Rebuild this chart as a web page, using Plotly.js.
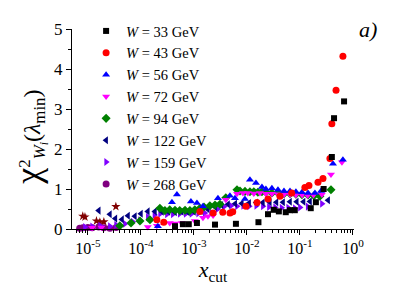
<!DOCTYPE html>
<html>
<head>
<meta charset="utf-8">
<script src="https://cdn.plot.ly/plotly-3.0.1.min.js"></script>
<style>html,body{margin:0;padding:0;background:#fff;}#chart{width:409px;height:287px;}</style>
</head>
<body>
<div id="chart"></div>
<script>
// W = 33 GeV
const x33 = [4.4e-4, 6.2e-4, 8.0e-4, 1.14e-3, 2.5e-3, 6.2e-3, 0.0165, 0.025, 0.032, 0.040, 0.054, 0.065, 0.080, 0.16, 0.20, 0.28, 0.40, 0.44, 0.68];
const y33 = [0.07, 0.12, 0.12, 0.15, 0.11, 0.13, 0.17, 0.37, 0.48, 0.44, 0.42, 0.47, 0.47, 0.52, 0.67, 1.0, 1.8, 2.77, 3.19];
// W = 43 GeV
const x43 = [2.0e-4, 2.7e-4, 1.3e-3, 2.3e-3, 3.5e-3, 4.8e-3, 5.4e-3, 9.6e-3, 0.0155, 0.025, 0.042, 0.07, 0.124, 0.148, 0.219, 0.272, 0.368, 0.40, 0.48, 0.647];
const y43 = [0.23, 0.17, 0.44, 0.40, 0.42, 0.40, 0.43, 0.57, 0.66, 0.75, 0.82, 0.90, 1.04, 1.09, 1.17, 1.26, 1.76, 2.63, 3.47, 4.32];
// W = 56 GeV
const x56 = [2.09e-4, 3.85e-4, 4.78e-4, 8.78e-4, 1.14e-3, 1.48e-3, 2.84e-3, 4.78e-3, 5.94e-3, 9.17e-3, 0.0114, 0.0148, 0.0192, 0.0228, 0.0296, 0.0385, 0.05, 0.065, 0.084, 0.109, 0.142, 0.192, 0.25, 0.42, 0.647];
const y56 = [0.07, 0.67, 0.86, 0.69, 0.65, 0.57, 0.77, 0.83, 0.77, 0.75, 1.23, 1.15, 1.05, 1.0, 1.02, 0.98, 0.95, 0.95, 0.93, 0.92, 0.90, 0.90, 0.95, 1.63, 1.73];
// W = 72 GeV
const x72 = [1.2e-5, 1.8e-5, 1.35e-4, 2.0e-4, 3.5e-4, 4.4e-4, 5.9e-4, 1.04e-3, 1.48e-3, 1.84e-3, 2.3e-3, 4.0e-3, 6.5e-3, 8.4e-3, 0.0104, 0.0135, 0.0176, 0.0228, 0.0296, 0.0385, 0.05, 0.065, 0.084, 0.11, 0.14, 0.18, 0.26, 0.385, 0.62];
const y72 = [0.03, 0.04, 0.05, 0.08, 0.15, 0.14, 0.15, 0.20, 0.28, 0.32, 0.34, 0.73, 0.88, 0.90, 0.90, 0.89, 0.90, 0.88, 0.88, 0.87, 0.86, 0.86, 0.85, 0.85, 0.84, 0.85, 0.86, 1.36, 1.67];
// W = 94 GeV
const x94 = [4.0e-5, 6.5e-5, 9.6e-5, 1.48e-4, 2.28e-4, 2.84e-4, 3.5e-4, 4.4e-4, 5.4e-4, 6.8e-4, 8.4e-4, 1.04e-3, 1.3e-3, 1.55e-3, 2.0e-3, 2.5e-3, 3.1e-3, 4.0e-3, 6.5e-3, 7.4e-3, 9.2e-3, 0.0114, 0.0135, 0.0161, 0.0192, 0.0228, 0.0296, 0.0385, 0.05, 0.065, 0.084, 0.109, 0.142, 0.184, 0.238, 0.385];
const y94 = [0.08, 0.15, 0.20, 0.23, 0.52, 0.46, 0.48, 0.47, 0.46, 0.47, 0.46, 0.48, 0.52, 0.55, 0.58, 0.60, 0.62, 0.78, 0.98, 0.95, 0.94, 0.93, 0.93, 0.92, 0.93, 0.92, 0.90, 0.90, 0.88, 0.88, 0.87, 0.86, 0.85, 0.83, 0.82, 0.98];
// W = 122 GeV
const x122 = [1.6e-5, 2.6e-5, 3.3e-5, 4.4e-5, 5.7e-5, 7.7e-5, 1.0e-4, 1.35e-4, 1.84e-4, 2.5e-4, 3.3e-4, 4.4e-4, 5.9e-4, 7.7e-4, 1.0e-3, 1.35e-3, 1.8e-3, 2.5e-3, 3.3e-3, 4.4e-3, 6.0e-3, 8.0e-3, 0.011, 0.015, 0.02, 0.027, 0.036, 0.048, 0.065, 0.087, 0.117, 0.155, 0.34];
const y122 = [0.46, 0.37, 0.26, 0.24, 0.33, 0.32, 0.38, 0.44, 0.44, 0.43, 0.43, 0.42, 0.43, 0.42, 0.43, 0.45, 0.50, 0.55, 0.60, 0.62, 0.63, 0.64, 0.65, 0.66, 0.66, 0.67, 0.67, 0.67, 0.68, 0.68, 0.68, 0.69, 0.72];
// W = 159 GeV
const x159 = [8.8e-6, 1.2e-5, 1.7e-5, 2.6e-5, 3.4e-5, 5.0e-5, 7.0e-5, 9.6e-5, 1.35e-4, 1.8e-4, 2.3e-4, 3.1e-4, 4.0e-4, 5.4e-4, 7.0e-4, 9.0e-4, 1.2e-3, 1.6e-3, 2.1e-3, 2.8e-3, 3.7e-3, 5.0e-3, 6.5e-3, 8.5e-3, 0.011, 0.015, 0.02, 0.026, 0.034, 0.045, 0.06, 0.08, 0.10, 0.14, 0.26];
const y159 = [0.05, 0.06, 0.08, 0.07, 0.10, 0.13, 0.18, 0.22, 0.30, 0.35, 0.38, 0.37, 0.37, 0.38, 0.38, 0.38, 0.39, 0.40, 0.42, 0.50, 0.56, 0.58, 0.57, 0.58, 0.57, 0.58, 0.57, 0.55, 0.54, 0.53, 0.53, 0.52, 0.54, 0.56, 0.63];
// W = 268 GeV
const x268 = [7.0e-6, 8.0e-6, 1.0e-5, 1.2e-5, 1.6e-5, 2.0e-5, 2.6e-5, 3.4e-5];
const y268 = [0.02, 0.03, 0.04, 0.03, 0.05, 0.03, 0.02, 0.04];
// unlabeled star series
const xStar = [8.0e-6, 8.8e-6, 1.45e-5, 1.68e-5, 2.0e-5, 3.37e-5];
const yStar = [0.32, 0.30, 0.20, 0.17, 0.18, 0.56];

const names = ['<i>W</i> = 33 GeV', '<i>W</i> = 43 GeV', '<i>W</i> = 56 GeV', '<i>W</i> = 72 GeV', '<i>W</i> = 94 GeV', '<i>W</i> = 122 GeV', '<i>W</i> = 159 GeV', '<i>W</i> = 268 GeV'];
const xs = [x33, x43, x56, x72, x94, x122, x159, x268];
const ys = [y33, y43, y56, y72, y94, y122, y159, y268];
const colors = ['#000000', '#FF0000', '#0000FF', '#FF00FF', '#008000', '#000080', '#8000FF', '#800080'];
const symbols = ['square', 'circle', 'triangle-up', 'triangle-down', 'diamond', 'triangle-left', 'triangle-right', 'circle'];
const sizes = [6, 7, 7, 7, 7, 7, 7, 7];

const traces = [];
traces.push({x: xStar, y: yStar, type: 'scatter', mode: 'markers', showlegend: false, cliponaxis: false,
  marker: {symbol: 'star', size: 7, color: '#800000'}});
for (let i = xs.length - 1; i >= 0; i--) {
  traces.push({x: xs[i], y: ys[i], name: names[i], type: 'scatter', mode: 'markers', cliponaxis: false,
    marker: {symbol: symbols[i], size: sizes[i], color: colors[i]}});
}

const font = 'Liberation Serif, Times New Roman, serif';
const layout = {
  width: 409, height: 287,
  margin: {l: 72, r: 55, t: 29, b: 58},
  paper_bgcolor: '#fff', plot_bgcolor: '#fff',
  font: {family: font, color: '#000'},
  showlegend: true,
  legend: {x: 0.05, y: 1.07, xanchor: 'left', yanchor: 'top', traceorder: 'reversed', maxheight: 400,
    font: {family: font, size: 14.5, color: '#000'}, bgcolor: 'rgba(0,0,0,0)', itemwidth: 30, tracegroupgap: 0},
  xaxis: {type: 'log', range: [-5.3, 0.02], showgrid: false, zeroline: false,
    showline: true, linecolor: '#000', linewidth: 1, ticks: 'outside', ticklen: 5, tickcolor: '#000',
    minor: {ticks: 'outside', ticklen: 3, tickcolor: '#000', dtick: 'D1', showgrid: false},
    tickvals: [1e-5, 1e-4, 1e-3, 1e-2, 1e-1, 1],
    ticktext: ['10<sup>-5</sup>', '10<sup>-4</sup>', '10<sup>-3</sup>', '10<sup>-2</sup>', '10<sup>-1</sup>', '10<sup>0</sup>'],
    tickfont: {family: font, size: 16, color: '#000'},
    title: {text: '<i>x</i><sub>cut</sub>', font: {family: font, size: 22, color: '#000'}, standoff: 0}},
  yaxis: {range: [0, 5], showgrid: false, zeroline: false,
    showline: true, linecolor: '#000', linewidth: 1, ticks: 'outside', ticklen: 5, tickcolor: '#000',
    dtick: 1, tick0: 0, minor: {ticks: 'outside', ticklen: 3, tickcolor: '#000', dtick: 0.5, showgrid: false},
    tickfont: {family: font, size: 17, color: '#000'}},
  annotations: [
    {xref: 'paper', yref: 'paper', x: 1.05, y: 1.0, xanchor: 'center', yanchor: 'middle',
      text: '<i>a)</i>', showarrow: false, font: {family: font, size: 22, color: '#000'}},
    {xref: 'paper', yref: 'paper', x: -0.15, y: 0.46, xanchor: 'center', yanchor: 'middle', textangle: -90,
      text: '<span style="font-size:36px">χ</span><sup>2</sup><sub><i>W<sub>i</sub></i></sub>(<i>λ</i><sub>min</sub>)',
      showarrow: false, font: {family: font, size: 24, color: '#000'}}
  ]
};

Plotly.newPlot('chart', traces, layout, {displayModeBar: false, staticPlot: true});
</script>
</body>
</html>
